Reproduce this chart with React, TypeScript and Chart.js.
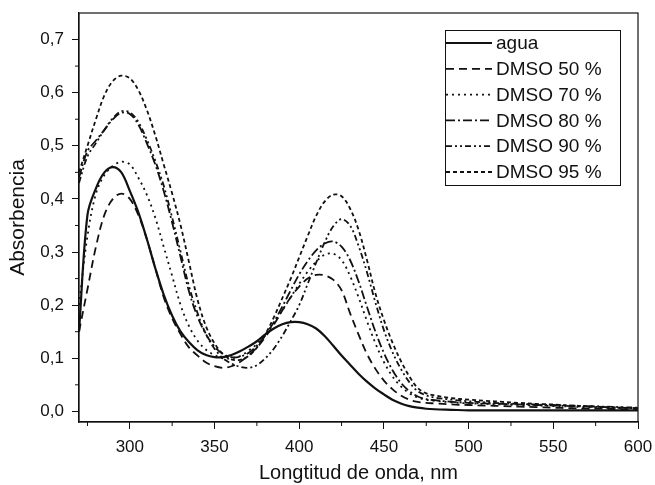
import React, { useEffect, useRef } from "react";
import { Chart, registerables } from "chart.js";

Chart.register(...registerables);

const wavelengths = [
  270, 275, 280, 285, 290, 295, 300, 305, 310, 315,
  320, 325, 330, 335, 340, 345, 350, 355, 360, 365,
  370, 375, 380, 385, 390, 395, 400, 405, 410, 415,
  420, 425, 430, 435, 440, 445, 450, 455, 460, 465,
  470, 475, 480, 490, 500, 510, 520, 530, 540, 550,
  560, 570, 580, 590, 600,
];

const agua = [
  0.15, 0.37, 0.42, 0.45, 0.46, 0.45, 0.415, 0.375, 0.325, 0.27,
  0.22, 0.18, 0.15, 0.13, 0.115, 0.106, 0.102, 0.102, 0.106, 0.113,
  0.122, 0.132, 0.145, 0.156, 0.164, 0.168, 0.168, 0.164, 0.156, 0.142,
  0.124, 0.105, 0.088, 0.071, 0.056, 0.043, 0.032, 0.022, 0.015, 0.01,
  0.007, 0.005, 0.004, 0.003, 0.002, 0.002, 0.002, 0.002, 0.002, 0.002,
  0.002, 0.002, 0.002, 0.002, 0.002,
];

const dmso50 = [
  0.15, 0.23, 0.31, 0.37, 0.4, 0.41, 0.4, 0.37, 0.325, 0.27,
  0.215, 0.175, 0.145, 0.12, 0.105, 0.092, 0.085, 0.082, 0.085, 0.093,
  0.105, 0.12, 0.14, 0.163, 0.19, 0.215, 0.235, 0.25, 0.257, 0.256,
  0.248, 0.228, 0.185, 0.145, 0.108, 0.08, 0.058, 0.042, 0.03, 0.022,
  0.018, 0.016, 0.015, 0.013, 0.012, 0.011, 0.01, 0.009, 0.008, 0.007,
  0.006, 0.005, 0.005, 0.004, 0.004,
];

const dmso70 = [
  0.2, 0.33, 0.41, 0.445, 0.462, 0.47, 0.465, 0.44, 0.408, 0.365,
  0.31, 0.255, 0.2, 0.16, 0.133, 0.116, 0.106, 0.1, 0.1, 0.104,
  0.114, 0.127, 0.145, 0.166, 0.19, 0.215, 0.24, 0.263, 0.282, 0.295,
  0.297, 0.285, 0.255, 0.215, 0.17, 0.128, 0.093, 0.066, 0.047, 0.034,
  0.026, 0.022, 0.02, 0.017, 0.015, 0.014, 0.013, 0.012, 0.011, 0.01,
  0.009, 0.008, 0.007, 0.006, 0.006,
];

const dmso80 = [
  0.44, 0.49, 0.51, 0.53, 0.55, 0.562, 0.56, 0.54, 0.505, 0.465,
  0.415, 0.355, 0.29, 0.225, 0.178, 0.145, 0.122, 0.108, 0.102, 0.103,
  0.11, 0.124, 0.143, 0.168, 0.197, 0.228, 0.258, 0.283, 0.303, 0.316,
  0.32, 0.31, 0.285, 0.245, 0.197, 0.15, 0.11, 0.078, 0.054, 0.038,
  0.028, 0.023, 0.021, 0.018, 0.016, 0.015, 0.014, 0.013, 0.012, 0.011,
  0.01, 0.009, 0.008, 0.007, 0.006,
];

const dmso90 = [
  0.43, 0.48, 0.505, 0.53, 0.552, 0.565, 0.563, 0.545, 0.512, 0.472,
  0.425, 0.365, 0.3, 0.235, 0.185, 0.145, 0.118, 0.1, 0.09, 0.084,
  0.082, 0.087, 0.1, 0.118, 0.142, 0.17, 0.2, 0.24, 0.28, 0.318,
  0.348, 0.362, 0.35, 0.312, 0.262, 0.205, 0.153, 0.112, 0.08, 0.055,
  0.038, 0.03, 0.026, 0.022, 0.019, 0.017, 0.015, 0.014, 0.013, 0.012,
  0.011, 0.01, 0.009, 0.008, 0.007,
];

const dmso95 = [
  0.45, 0.5, 0.55, 0.595, 0.622, 0.632, 0.627, 0.605, 0.568, 0.52,
  0.465, 0.41, 0.35, 0.28, 0.21, 0.16, 0.128, 0.108, 0.098, 0.097,
  0.104, 0.12, 0.145, 0.177, 0.213, 0.25, 0.29, 0.33, 0.368, 0.395,
  0.408, 0.405, 0.382, 0.342, 0.285, 0.222, 0.172, 0.13, 0.095, 0.066,
  0.044, 0.034, 0.03, 0.025, 0.022, 0.02, 0.018, 0.016, 0.014, 0.013,
  0.011, 0.01, 0.008, 0.007, 0.006,
];

const seriesLabels = ["agua", "DMSO 50 %", "DMSO 70 %", "DMSO 80 %", "DMSO 90 %", "DMSO 95 %"];
const seriesValues = [agua, dmso50, dmso70, dmso80, dmso90, dmso95];
const seriesDashes = [[], [8, 5], [2, 4], [9, 3, 2, 3], [6, 3, 2, 3, 2, 3], [4, 3]];

const xTicks = [300, 350, 400, 450, 500, 550, 600];
const xMinorTicks = [275, 325, 375, 425, 475, 525, 575];
const yTicks = [0, 0.1, 0.2, 0.3, 0.4, 0.5, 0.6, 0.7];
const yMinorTicks = [0.05, 0.15, 0.25, 0.35, 0.45, 0.55, 0.65];

const FONT = "'Liberation Sans', Arial, sans-serif";
const INK = "#111";

const framePlugin = {
  id: "frameAndMinor",
  afterDraw(chart: any) {
    const { ctx, chartArea, scales } = chart;
    ctx.save();
    ctx.strokeStyle = INK;
    ctx.lineWidth = 1.2;
    ctx.strokeRect(chartArea.left, chartArea.top, chartArea.right - chartArea.left, chartArea.bottom - chartArea.top);
    ctx.lineWidth = 1;
    ctx.beginPath();
    for (const v of xMinorTicks) {
      const px = scales.x.getPixelForValue(v);
      ctx.moveTo(px, chartArea.bottom);
      ctx.lineTo(px, chartArea.bottom + 4);
    }
    for (const v of yMinorTicks) {
      const py = scales.y.getPixelForValue(v);
      ctx.moveTo(chartArea.left, py);
      ctx.lineTo(chartArea.left - 4, py);
    }
    ctx.stroke();
    ctx.restore();
  },
};

const legendPlugin = {
  id: "boxLegend",
  afterDraw(chart: any) {
    const { ctx, chartArea } = chart;
    const w = 175;
    const h = 155;
    const x0 = chartArea.right - 18 - w;
    const y0 = chartArea.top + 17;
    ctx.save();
    ctx.fillStyle = "#fff";
    ctx.fillRect(x0, y0, w, h);
    ctx.strokeStyle = INK;
    ctx.lineWidth = 1;
    ctx.setLineDash([]);
    ctx.strokeRect(x0 + 0.5, y0 + 0.5, w, h);
    const rowH = 25.8;
    ctx.font = `19px ${FONT}`;
    ctx.textBaseline = "middle";
    ctx.textAlign = "left";
    chart.data.datasets.forEach((ds: any, i: number) => {
      const cy = y0 + 13 + i * rowH;
      ctx.beginPath();
      ctx.setLineDash(ds.borderDash || []);
      ctx.lineWidth = ds.borderWidth;
      ctx.strokeStyle = INK;
      ctx.moveTo(x0 + 1, cy);
      ctx.lineTo(x0 + 47, cy);
      ctx.stroke();
      ctx.setLineDash([]);
      ctx.fillStyle = INK;
      ctx.fillText(ds.label, x0 + 51, cy + 1);
    });
    ctx.restore();
  },
};

export default function App() {
  const ref = useRef<HTMLCanvasElement | null>(null);

  useEffect(() => {
    if (!ref.current) return;
    const chart = new Chart(ref.current, {
      type: "line",
      data: {
        datasets: seriesLabels.map((label, i) => ({
          label,
          data: wavelengths.map((x, j) => ({ x, y: seriesValues[i][j] })),
          borderColor: INK,
          borderWidth: i === 0 ? 2.2 : 1.8,
          borderDash: seriesDashes[i],
          pointRadius: 0,
          fill: false,
          tension: 0.35,
        })),
      },
      options: {
        animation: false,
        responsive: false,
        layout: { padding: { top: 13, right: 17, left: 0, bottom: 0 } },
        plugins: { legend: { display: false }, tooltip: { enabled: false } },
        scales: {
          x: {
            type: "linear",
            min: 270,
            max: 600,
            afterBuildTicks: (scale: any) => {
              scale.ticks = xTicks.map((v) => ({ value: v }));
            },
            afterFit: (scale: any) => {
              scale.height = 63;
              scale.paddingLeft = 0;
              scale.paddingRight = 0;
            },
            grid: { drawOnChartArea: false, tickLength: 7, color: INK, tickColor: INK },
            border: { color: INK, width: 1.2 },
            ticks: {
              color: INK,
              font: { family: FONT, size: 17 },
              padding: 8,
              maxRotation: 0,
              callback: (v: any) => String(v),
            },
            title: {
              display: true,
              text: "Longtitud de onda, nm",
              color: INK,
              font: { family: FONT, size: 20, lineHeight: 1.05 },
              padding: { top: 0, bottom: 1 },
            },
          },
          y: {
            type: "linear",
            min: -0.02,
            max: 0.75,
            afterBuildTicks: (scale: any) => {
              scale.ticks = yTicks.map((v) => ({ value: v }));
            },
            afterFit: (scale: any) => {
              scale.width = 79;
              scale.paddingTop = 0;
              scale.paddingBottom = 0;
            },
            grid: { drawOnChartArea: false, tickLength: 7, color: INK, tickColor: INK },
            border: { color: INK, width: 1.2 },
            ticks: {
              color: INK,
              font: { family: FONT, size: 17 },
              padding: 8,
              callback: (v: any) => Number(v).toFixed(1).replace(".", ","),
            },
            title: {
              display: true,
              text: "Absorbencia",
              color: INK,
              font: { family: FONT, size: 21 },
              padding: { top: 6, bottom: 0 },
            },
          },
        },
      },
      plugins: [framePlugin, legendPlugin],
    });
    return () => chart.destroy();
  }, []);

  return (
    <div style={{ position: "fixed", left: 0, top: 0, width: 655, height: 485, background: "#fff" }}>
      <canvas ref={ref} width={655} height={485} style={{ display: "block" }} />
    </div>
  );
}
